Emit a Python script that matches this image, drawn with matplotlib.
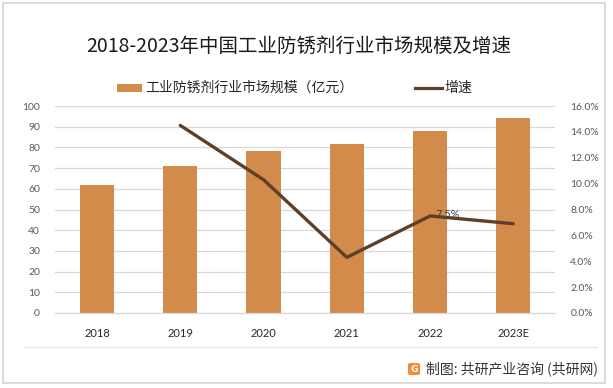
import matplotlib
matplotlib.use("Agg")
import matplotlib.pyplot as plt
from matplotlib.patches import Rectangle, FancyBboxPatch
from matplotlib.lines import Line2D
from matplotlib.ticker import FuncFormatter, MultipleLocator

plt.rcParams['font.family'] = ['Noto Sans CJK SC', 'DejaVu Sans']

years = ['2018', '2019', '2020', '2021', '2022', '2023E']
market_size = [62.0, 71.0, 78.3, 81.6, 88.0, 94.2]
growth = [None, 14.5, 10.3, 4.3, 7.5, 6.9]  # percent
title = '2018-2023年中国工业防锈剂行业市场规模及增速'
bar_label = '工业防锈剂行业市场规模（亿元）'
line_label = '增速'
source = '制图: 共研产业咨询 (共研网)'

W, H = 613, 388
fig = plt.figure(figsize=(W / 100, H / 100), dpi=100)
fig.patch.set_facecolor('white')

def fx(px):
    return px / W

def fy(py):
    return 1 - py / H

# outer border
fig.add_artist(Rectangle((fx(3), fy(383)), fx(602), (380) / H, transform=fig.transFigure,
                         fill=False, edgecolor='#d4d4d4', linewidth=1.2))
# separator line
fig.add_artist(Line2D([fx(24), fx(597)], [fy(347), fy(347)], transform=fig.transFigure,
                      color='#e6e6e6', linewidth=0.9))

left, right, top, bottom = 55.4, 555, 106, 313
ax = fig.add_axes([fx(left), fy(bottom), fx(right - left), (bottom - top) / H])
ax.set_facecolor('none')
x = list(range(len(years)))
bar_color = '#D38B4C'
line_color = '#5E4029'
ax.bar(x, market_size, width=0.41, color=bar_color, zorder=2)
ax.set_xlim(-0.5, len(years) - 0.5)
ax.set_ylim(0, 100)
ax.yaxis.set_major_locator(MultipleLocator(10))
ax.grid(axis='y', color='#d9d9d9', linewidth=0.9, zorder=0)
ax.set_axisbelow(True)
for s in ['top', 'right', 'left']:
    ax.spines[s].set_visible(False)
ax.spines['bottom'].set_color('#d9d9d9')
ax.spines['bottom'].set_linewidth(0.9)
ax.set_xticks(x)
ax.set_xticklabels(years, fontfamily='Lato', fontsize=8, color='#262626')
ax.tick_params(axis='x', length=0, pad=11)
ax.tick_params(axis='y', length=0, pad=11, labelsize=7.5, labelcolor='#595959')
for t in ax.get_yticklabels():
    t.set_fontfamily('Lato')

ax2 = ax.twinx()
ax2.set_ylim(0, 16)
ax2.yaxis.set_major_locator(MultipleLocator(2))
ax2.yaxis.set_major_formatter(FuncFormatter(lambda v, p: f'{v:.1f}%'))
for s in ['top', 'right', 'left', 'bottom']:
    ax2.spines[s].set_visible(False)
ax2.tick_params(axis='y', length=0, pad=11, labelsize=7.5, labelcolor='#595959')
for t in ax2.get_yticklabels():
    t.set_fontfamily('Lato')
gx = [i for i, g in zip(x, growth) if g is not None]
gy = [g for g in growth if g is not None]
ax2.plot(gx, gy, color=line_color, linewidth=2.4, solid_capstyle='round', zorder=3)
ax2.annotate(f'{growth[4]:.1f}%', (x[4], growth[4]), xytext=(4, 1), textcoords='offset points',
             ha='left', va='center', fontsize=8, fontfamily='Lato', color='#404040')

# title
fig.text(fx(299), fy(46), title, ha='center', va='center', fontsize=14, color='#1a1a1a')

# legend (manual)
fig.add_artist(Rectangle((fx(117), fy(92)), fx(25), 8 / H, transform=fig.transFigure,
                         facecolor=bar_color, edgecolor='none'))
fig.text(fx(145), fy(88), bar_label, ha='left', va='center', fontsize=10, color='#262626')
fig.add_artist(Line2D([fx(415), fx(442)], [fy(88), fy(88)], transform=fig.transFigure,
                      color=line_color, linewidth=2.3))
fig.text(fx(444), fy(88), line_label, ha='left', va='center', fontsize=10, color='#262626')

# footer
fig.add_artist(FancyBboxPatch((fx(408), fy(375)), fx(12), 12 / H, transform=fig.transFigure,
                              boxstyle='round,pad=0,rounding_size=0.004',
                              facecolor='#F28C3A', edgecolor='none'))
fig.text(fx(414), fy(369), 'G', ha='center', va='center', fontsize=6.5, color='white',
         fontweight='bold', fontfamily='DejaVu Sans')
fig.text(fx(598), fy(369), source, ha='right', va='center', fontsize=10, color='#333333')

fig.savefig('out.png', dpi=100)
